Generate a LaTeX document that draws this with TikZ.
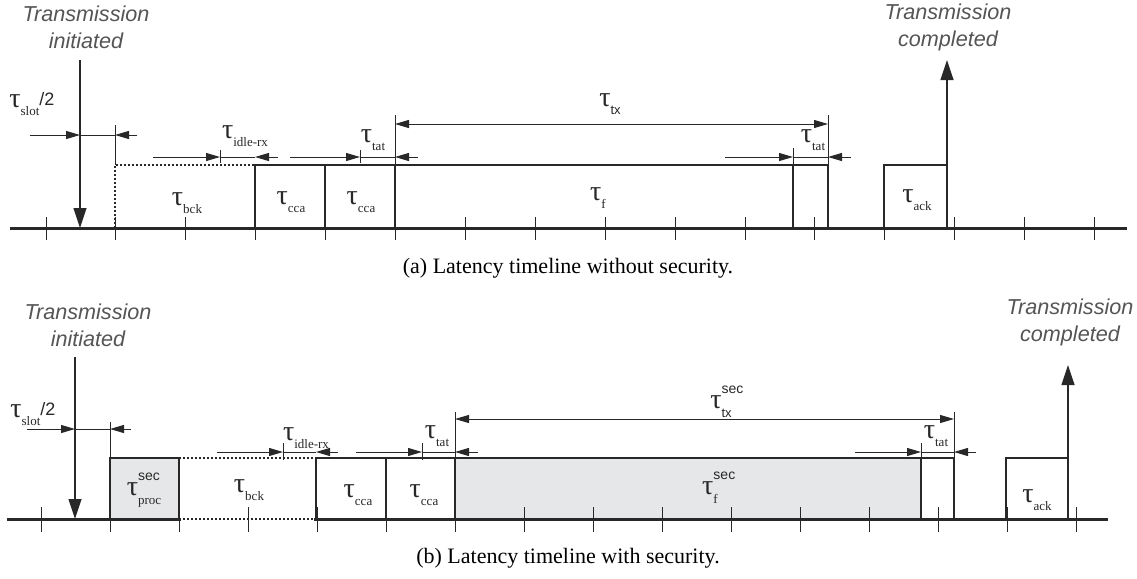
\documentclass[tikz,border=0pt]{standalone}
\usepackage{fontspec}
\setmainfont{Liberation Serif}
\setsansfont{Liberation Sans}
\usetikzlibrary{arrows.meta}
\definecolor{boxgray}{RGB}{230,231,232}
\definecolor{inkgray}{RGB}{40,40,40}
\definecolor{captgray}{RGB}{85,85,85}
\newcommand{\tlab}[1]{{\fontsize{14}{14}\selectfont τ}\raisebox{-4pt}{\fontsize{6.5}{7}\selectfont #1}}
\newcommand{\tlabsec}[1]{{\fontsize{14}{14}\selectfont τ}\rlap{\raisebox{7.5pt}{\fontsize{7}{7}\sffamily sec}}\raisebox{-4.5pt}{\fontsize{6.5}{7}\selectfont #1}}
\newcommand{\tslot}{{\fontsize{14}{14}\selectfont τ}\raisebox{-4pt}{\fontsize{6.5}{7}\selectfont slot}\raisebox{1pt}{\fontsize{9}{9}\sffamily /2}}
\tikzset{
  axisline/.style={line width=1.5pt,inkgray},
  tickline/.style={line width=0.5pt,inkgray},
  slotbox/.style={line width=1.4pt,inkgray},
  dotbox/.style={line width=1.1pt,inkgray,dash pattern=on 1pt off 1pt},
  thin line/.style={line width=0.5pt,inkgray},
  dimarrow/.style={line width=0.5pt,inkgray,-{Triangle[length=7pt,width=4pt]}},
  dimboth/.style={line width=0.5pt,inkgray,{Triangle[length=7pt,width=4pt]}-{Triangle[length=7pt,width=4pt]}},
  eventarrow/.style={line width=0.6pt,inkgray,-{Triangle[length=10pt,width=6.5pt]}},
  eventlabel/.style={align=center,text=captgray,font=\fontsize{10.8}{13.5}\selectfont\sffamily\itshape,inner sep=0pt},
  tlabel/.style={text=inkgray,inner sep=0pt},
  caption/.style={font=\fontsize{11}{13}\selectfont,inner sep=0pt}
}
\begin{document}
\begin{tikzpicture}[x=0.5pt,y=-0.5pt]
\useasboundingbox (0,0) rectangle (1137,579);
\fill[white] (0,0) rectangle (1137,579);
\draw[axisline] (10,228)--(1127,228);
\foreach \k in {0,...,15}
  {\draw[tickline] ({46+69.9*\k},217)--({46+69.9*\k},240);}
\draw[dotbox] (115,228)--(115,165)--(255,165);
\draw[slotbox] (255,228) rectangle (325,165);
\draw[slotbox] (325,228) rectangle (395,165);
\draw[slotbox] (395,228) rectangle (793,165);
\draw[slotbox] (793,228) rectangle (828,165);
\draw[slotbox] (884,228) rectangle (947,165);
\coordinate (startA) at (80,60);
\coordinate (endA) at (947,60);
\draw[eventarrow] (startA)--(80,228);
\draw[eventarrow] (947,165)--(endA);
\node[eventlabel] (initA) at (86,27) {Transmission\\initiated};
\node[eventlabel] (doneA) at (948,27) {Transmission\\completed};
\draw[thin line] (115,125)--(115,165);
\draw[dimarrow] (30,135)--(80,135);
\draw[thin line] (80,135)--(115,135);
\draw[dimarrow] (137,135)--(115,135);
\node[tlabel,anchor=west] (slotA) at (9,104) {\tslot};
\draw[dimarrow] (153,157)--(220,157);
\draw[thin line] (220,157)--(255,157) (220,150)--(220,163);
\draw[dimarrow] (278,157)--(255,157);
\node[tlabel] (idleA) at (245,136) {\tlab{idle-rx}};
\draw[dimarrow] (290,157)--(360,157);
\draw[thin line] (360,157)--(395,157) (360,150)--(360,163) (395,115)--(395,165);
\draw[dimarrow] (418,157)--(395,157);
\node[tlabel] (tatA) at (373,140) {\tlab{tat}};
\draw[dimboth] (395,124)--(828,124);
\draw[thin line] (828,115)--(828,165);
\node[tlabel] (txA) at (610,104) {\tlab{\sffamily tx}};
\draw[dimarrow] (725,157)--(793,157);
\draw[thin line] (793,157)--(828,157) (793,148)--(793,165);
\draw[dimarrow] (851,157)--(828,157);
\node[tlabel] (tatAA) at (813,140) {\tlab{tat}};
\node[tlabel] (bckA) at (187,203) {\tlab{bck}};
\node[tlabel] (ccaA) at (291,202) {\tlab{cca}};
\node[tlabel] (ccaAA) at (361,202) {\tlab{cca}};
\node[tlabel] (fA) at (598,198) {\tlab{f}};
\node[tlabel] (ackA) at (917,200) {\tlab{ack}};
\node[caption] (captA) at (568,268) {(a) Latency timeline without security.};
\fill[boxgray] (110,519) rectangle (179,458);
\fill[boxgray] (455,519) rectangle (921,458);
\draw[axisline] (7,519)--(1108,519);
\draw[white,line width=1.7pt] (181,519)--(314,519);
\foreach \k in {0,...,15}
  {\draw[tickline] ({41+69*\k},507)--({41+69*\k},532);}
\draw[dotbox] (179,458)--(316,458) (179,519)--(316,519);
\draw[slotbox] (110,519) rectangle (179,458);
\draw[slotbox] (316,519) rectangle (386,458);
\draw[slotbox] (386,519) rectangle (455,458);
\draw[slotbox] (455,519) rectangle (921,458);
\draw[slotbox] (921,519) rectangle (954,458);
\draw[slotbox] (1006,519) rectangle (1068,458);
\coordinate (startB) at (75,357);
\coordinate (endB) at (1068,365);
\draw[eventarrow] (startB)--(75,519);
\draw[line width=1.2pt,inkgray] (75,422)--(75,458);
\draw[eventarrow] (1068,458)--(endB);
\node[eventlabel] (initB) at (88,325) {Transmission\\initiated};
\node[eventlabel] (doneB) at (1070,322) {Transmission\\completed};
\draw[thin line] (110,422)--(110,458);
\draw[dimarrow] (27,429)--(75,429);
\draw[thin line] (75,429)--(110,429);
\draw[dimarrow] (131,429)--(110,429);
\node[tlabel,anchor=west] (slotB) at (10,414) {\tslot};
\draw[dimarrow] (217,452)--(283,452);
\draw[thin line] (283,452)--(316,452) (283,443)--(283,460);
\draw[dimarrow] (338,452)--(316,452);
\node[tlabel] (idleB) at (306,438) {\tlab{idle-rx}};
\draw[dimarrow] (356,452)--(422,452);
\draw[thin line] (422,452)--(455,452) (422,443)--(422,460) (455,412)--(455,458);
\draw[dimarrow] (478,452)--(455,452);
\node[tlabel] (tatB) at (437,436) {\tlab{tat}};
\draw[dimboth] (455,419)--(954,419);
\draw[thin line] (954,412)--(954,458);
\node[tlabel] (txB) at (721,402) {\tlabsec{\sffamily tx}};
\draw[dimarrow] (855,452)--(921,452);
\draw[thin line] (921,452)--(954,452) (921,443)--(921,458);
\draw[dimarrow] (976,452)--(954,452);
\node[tlabel] (tatBB) at (936,436) {\tlab{tat}};
\node[tlabel] (procB) at (144,490) {\tlabsec{proc}};
\node[tlabel] (bckB) at (249,490) {\tlab{bck}};
\node[tlabel] (ccaB) at (358,495) {\tlab{cca}};
\node[tlabel] (ccaBB) at (424,495) {\tlab{cca}};
\node[tlabel] (fB) at (710,488) {\tlabsec{f}};
\node[tlabel] (ackB) at (1037,500) {\tlab{ack}};
\node[caption] (captB) at (568,558) {(b) Latency timeline with security.};
\end{tikzpicture}
\end{document}
